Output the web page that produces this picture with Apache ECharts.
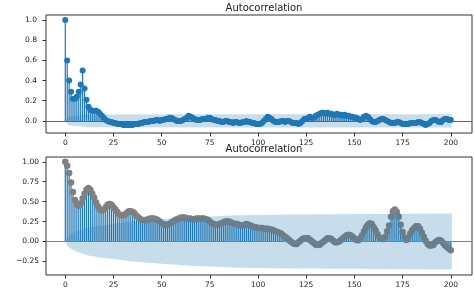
<!DOCTYPE html>
<html>
<head>
<meta charset="utf-8">
<script src="https://cdn.jsdelivr.net/npm/echarts@6/dist/echarts.min.js"></script>
<style>
  html, body { margin: 0; padding: 0; background: #fff; }
  #main { width: 474px; height: 295px; }
</style>
</head>
<body>
<div id="main"></div>
<script>
// acf values for lags 0..200
var acfTop = [
  1.00, 0.60, 0.40, 0.29, 0.22, 0.22, 0.24, 0.29, 0.36, 0.50,
  0.32, 0.21, 0.14, 0.11, 0.10, 0.10, 0.10, 0.09, 0.07, 0.05,
  0.03, 0.01, 0.00, -0.01, -0.01, -0.02, -0.02, -0.03, -0.03, -0.03,
  -0.04, -0.04, -0.04, -0.04, -0.04, -0.04, -0.03, -0.03, -0.03, -0.02,
  -0.02, -0.01, -0.01, -0.01, 0.00, 0.00, 0.00, 0.01, 0.01, 0.00,
  0.01, 0.01, 0.02, 0.02, 0.03, 0.03, 0.02, 0.01, 0.00, 0.00,
  0.00, 0.01, 0.02, 0.03, 0.05, 0.04, 0.03, 0.02, 0.01, 0.01,
  0.01, 0.02, 0.02, 0.02, 0.03, 0.03, 0.02, 0.01, 0.01, 0.00,
  0.00, -0.01, -0.01, 0.00, 0.00, -0.01, -0.01, -0.02, -0.01, -0.01,
  -0.02, -0.02, -0.01, -0.01, 0.00, -0.01, -0.01, -0.02, -0.02, -0.03,
  -0.03, -0.03, -0.02, 0.00, 0.02, 0.04, 0.03, 0.02, 0.00, -0.01,
  -0.01, -0.01, 0.00, 0.00, -0.01, 0.00, 0.00, -0.01, -0.02, -0.02,
  -0.02, -0.03, -0.02, 0.00, 0.02, 0.02, 0.03, 0.04, 0.03, 0.03,
  0.05, 0.06, 0.07, 0.08, 0.08, 0.07, 0.08, 0.07, 0.07, 0.06,
  0.06, 0.07, 0.06, 0.06, 0.05, 0.06, 0.05, 0.05, 0.04, 0.04,
  0.03, 0.03, 0.02, 0.01, 0.02, 0.04, 0.05, 0.04, 0.02, 0.00,
  -0.01, -0.01, 0.00, 0.01, 0.02, 0.02, 0.01, 0.00, -0.01, -0.02,
  -0.02, -0.02, -0.01, -0.01, -0.02, -0.03, -0.03, -0.03, -0.03, -0.02,
  -0.02, -0.02, -0.02, -0.01, -0.01, -0.02, -0.03, -0.04, -0.03, -0.02,
  0.00, 0.01, 0.01, 0.00, -0.01, -0.01, 0.01, 0.02, 0.02, 0.01,
  0.01
];
var acfBottom = [
  1.00, 0.95, 0.86, 0.74, 0.62, 0.52, 0.46, 0.45, 0.48, 0.54,
  0.60, 0.65, 0.67, 0.65, 0.60, 0.55, 0.49, 0.44, 0.40, 0.39,
  0.40, 0.43, 0.46, 0.47, 0.46, 0.43, 0.40, 0.37, 0.34, 0.33,
  0.33, 0.34, 0.36, 0.38, 0.38, 0.37, 0.35, 0.32, 0.30, 0.28,
  0.27, 0.27, 0.27, 0.28, 0.29, 0.29, 0.29, 0.28, 0.27, 0.25,
  0.23, 0.22, 0.21, 0.21, 0.22, 0.24, 0.25, 0.27, 0.28, 0.29,
  0.30, 0.30, 0.30, 0.29, 0.29, 0.29, 0.28, 0.28, 0.29, 0.29,
  0.29, 0.29, 0.29, 0.28, 0.27, 0.25, 0.23, 0.22, 0.21, 0.21,
  0.22, 0.23, 0.24, 0.25, 0.25, 0.25, 0.24, 0.23, 0.22, 0.22,
  0.21, 0.20, 0.20, 0.21, 0.22, 0.21, 0.20, 0.19, 0.18, 0.18,
  0.17, 0.17, 0.17, 0.16, 0.16, 0.16, 0.15, 0.15, 0.14, 0.13,
  0.12, 0.11, 0.10, 0.08, 0.06, 0.04, 0.02, 0.00, -0.02, -0.03,
  -0.03, -0.01, 0.01, 0.03, 0.04, 0.04, 0.04, 0.02, 0.00, -0.02,
  -0.04, -0.045, -0.04, -0.02, 0.00, 0.02, 0.04, 0.04, 0.03, 0.01,
  -0.01, -0.01, 0.00, 0.02, 0.04, 0.06, 0.08, 0.085, 0.08, 0.06,
  0.04, 0.02, 0.015, 0.04, 0.08, 0.13, 0.18, 0.21, 0.23, 0.22,
  0.18, 0.14, 0.09, 0.05, 0.03, 0.03, 0.06, 0.13, 0.20, 0.31,
  0.38, 0.40, 0.37, 0.31, 0.21, 0.12, 0.05, 0.02, 0.05, 0.10,
  0.14, 0.17, 0.19, 0.19, 0.16, 0.11, 0.06, 0.01, -0.03, -0.05,
  -0.05, -0.04, -0.01, 0.01, 0.02, 0.01, -0.02, -0.05, -0.07, -0.09,
  -0.11
];
// confidence band half widths: [lag, half width]
var bandTop = [
  [-0.5, 0], [0, 0], [1, 0.033], [2, 0.043], [3, 0.047], [4, 0.049], [5, 0.05],
  [6, 0.051], [7, 0.052], [8, 0.054], [9, 0.057], [10, 0.061], [11, 0.063],
  [20, 0.064], [100, 0.065], [200, 0.066], [200.5, 0.066]
];
var bandBottom = [
  [-0.5, 0], [0, 0], [1, 0.05], [2, 0.075], [3, 0.095], [5, 0.12], [8, 0.145],
  [12, 0.175], [18, 0.2], [25, 0.22], [35, 0.25], [50, 0.28], [66, 0.305],
  [89, 0.33], [120, 0.34], [160, 0.345], [200, 0.35], [200.5, 0.35]
];
var xTicks = [0, 25, 50, 75, 100, 125, 150, 175, 200];
var yTicksTop = [0, 0.2, 0.4, 0.6, 0.8, 1.0];
var yTicksBottom = [-0.25, 0, 0.25, 0.5, 0.75, 1.0];

var blue = '#1f77b4';
var grey = '#808080';
var bandColor = 'rgba(31,119,180,0.25)';
var textColor = '#222';
var fontFamily = 'DejaVu Sans';

function pairs(vals) {
  var out = [];
  for (var i = 0; i < vals.length; i++) out.push([i, vals[i]]);
  return out;
}

function stemSeries(idx, vals) {
  return {
    type: 'custom',
    xAxisIndex: idx, yAxisIndex: idx,
    z: 1, silent: true,
    data: pairs(vals),
    renderItem: function (params, api) {
      var p0 = api.coord([api.value(0), 0]);
      var p1 = api.coord([api.value(0), api.value(1)]);
      return {
        type: 'line',
        shape: { x1: p0[0], y1: p0[1], x2: p1[0], y2: p1[1] },
        style: { stroke: blue, lineWidth: 1.2 }
      };
    }
  };
}

function bandSeries(idx, band) {
  return {
    type: 'custom',
    xAxisIndex: idx, yAxisIndex: idx,
    z: 4, silent: true,
    data: band,
    renderItem: function (params, api) {
      if (params.dataIndex !== 0) return null;
      var pts = [];
      for (var i = 0; i < band.length; i++) pts.push(api.coord([band[i][0], band[i][1]]));
      for (var j = band.length - 1; j >= 0; j--) pts.push(api.coord([band[j][0], -band[j][1]]));
      return { type: 'polygon', shape: { points: pts }, style: { fill: bandColor } };
    }
  };
}

function markerSeries(idx, vals, color, size) {
  return {
    type: 'scatter',
    xAxisIndex: idx, yAxisIndex: idx,
    z: 3, silent: true,
    symbol: 'circle', symbolSize: size,
    itemStyle: { color: color, opacity: 1 },
    data: pairs(vals),
    markLine: {
      silent: true, symbol: 'none', label: { show: false },
      lineStyle: { color: color, width: 1.2, type: 'solid' },
      data: [{ yAxis: 0 }]
    }
  };
}

function xAxis(idx) {
  return {
    type: 'value', gridIndex: idx, min: -10, max: 211,
    axisLine: { show: false, onZero: false },
    splitLine: { show: false },
    axisTick: { show: true, length: 3.5, lineStyle: { color: '#333' }, customValues: xTicks },
    axisLabel: { color: textColor, fontSize: 7.5, fontFamily: fontFamily, margin: 6, customValues: xTicks }
  };
}

function yAxis(idx, min, max, ticks, digits, margin) {
  return {
    type: 'value', gridIndex: idx, min: min, max: max,
    axisLine: { show: false, onZero: false },
    splitLine: { show: false },
    axisTick: { show: true, length: 3.5, lineStyle: { color: '#333' }, customValues: ticks },
    axisLabel: {
      color: textColor, fontSize: 7.5, fontFamily: fontFamily, margin: margin, customValues: ticks,
      formatter: function (v) {
        var s = Math.abs(v).toFixed(digits);
        return v < 0 ? '\u2212' + s : s;
      }
    }
  };
}

var chart = echarts.init(document.getElementById('main'), null, { renderer: 'canvas' });
chart.setOption({
  animation: false,
  backgroundColor: '#fff',
  title: [
    { text: 'Autocorrelation', left: 259, top: -2, textAlign: 'center',
      textStyle: { fontSize: 10, fontWeight: 'normal', color: textColor, fontFamily: fontFamily } },
    { text: 'Autocorrelation', left: 259, top: 139, textAlign: 'center',
      textStyle: { fontSize: 10, fontWeight: 'normal', color: textColor, fontFamily: fontFamily } }
  ],
  grid: [
    { left: 46, right: 2, top: 15, height: 118, show: true, borderColor: '#333', borderWidth: 1, backgroundColor: 'transparent' },
    { left: 46, right: 2, top: 157, height: 118, show: true, borderColor: '#333', borderWidth: 1, backgroundColor: 'transparent' }
  ],
  xAxis: [xAxis(0), xAxis(1)],
  yAxis: [
    yAxis(0, -0.12, 1.05, yTicksTop, 1, 9),
    yAxis(1, -0.42, 1.06, yTicksBottom, 2, 7)
  ],
  series: [
    stemSeries(0, acfTop),
    markerSeries(0, acfTop, blue, 6),
    bandSeries(0, bandTop),
    stemSeries(1, acfBottom),
    markerSeries(1, acfBottom, grey, 6.5),
    bandSeries(1, bandBottom)
  ]
});
</script>
</body>
</html>
